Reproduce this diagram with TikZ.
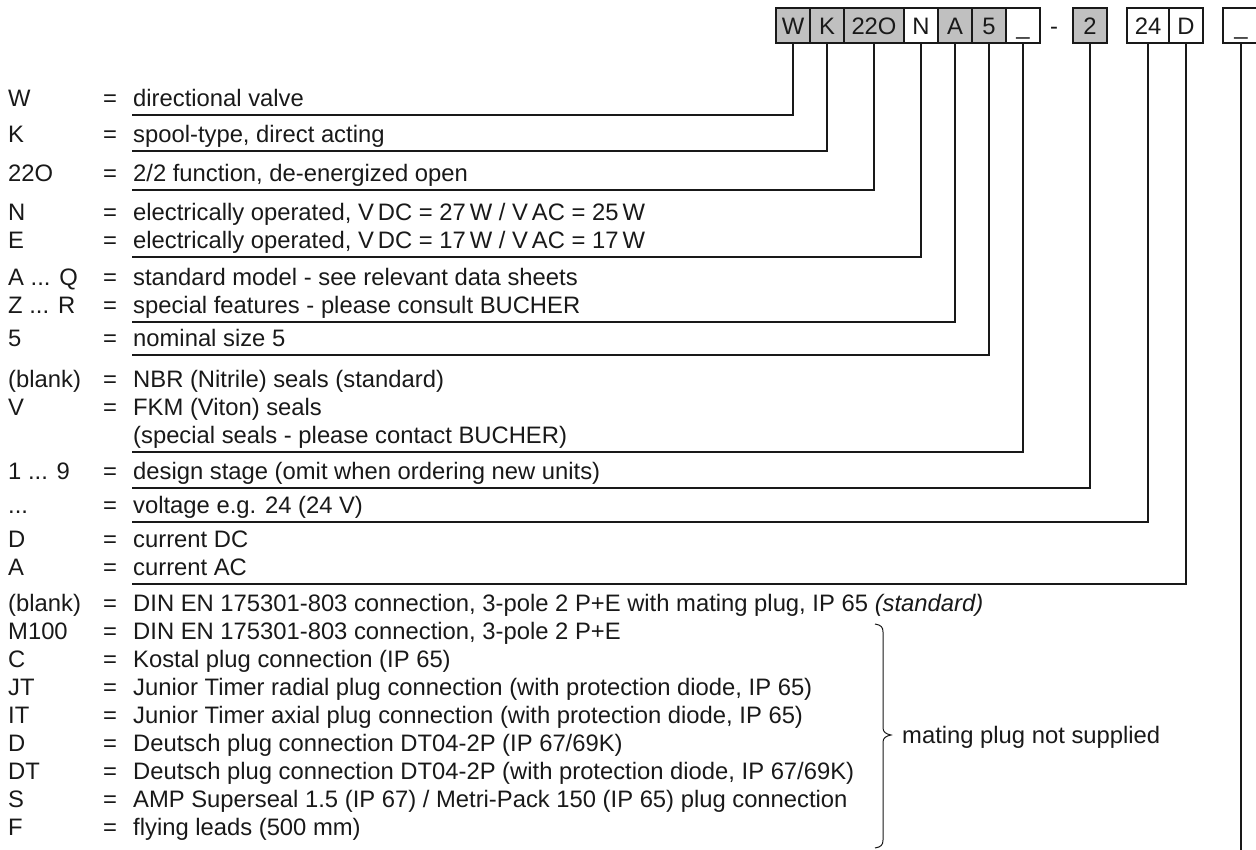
\documentclass[tikz,border=0pt]{standalone}
\usepackage{fontspec}
\setmainfont{Liberation Sans}
\definecolor{boxgray}{RGB}{192,192,192}
\definecolor{ink}{RGB}{25,25,25}
\newcommand\entry[4]{%
  \node[txt] (c#1) at (8,#2) {#3};
  \node[txt] (q#1) at (103,#2) {=};
  \node[txt] (d#1) at (133,#2) {#4};}
\begin{document}
\begin{tikzpicture}[x=1pt,y=-1pt,
  font=\fontsize{23.8}{28}\selectfont,
  txt/.style={anchor=base west, inner sep=0pt, text=ink},
  box/.style={draw=ink, line width=1.2pt, minimum height=35pt, inner sep=0pt,
    text height=17pt, text depth=0pt, text=ink},
  gbox/.style={box, fill=boxgray},
  conn/.style={draw=ink, line width=1.4pt}]
\useasboundingbox (0,0) rectangle (1256,849);

% code boxes
\node[gbox, minimum width=34pt] (bW) at (793,25.5) {W};
\node[gbox, minimum width=34pt] (bK) at (827,25.5) {K};
\node[gbox, minimum width=60pt] (b22) at (874,25.5) {22O};
\node[box,  minimum width=34pt] (bN) at (921,25.5) {N};
\node[gbox, minimum width=34pt] (bA) at (955,25.5) {A};
\node[gbox, minimum width=34pt] (b5) at (989,25.5) {5};
\node[box,  minimum width=34pt] (bU1) at (1023,25.5) {\_};
\node[txt] (dash) at (1050,34) {-};
\node[gbox, minimum width=34pt] (b2) at (1090,25.5) {2};
\node[box,  minimum width=42pt] (b24) at (1148,25.5) {24};
\node[box,  minimum width=34pt] (bD) at (1186,25.5) {D};
\node[box,  minimum width=36pt] (bU2) at (1241,25.5) {\_};

% entries (baselines)
\entry{W}{106.5}{W}{directional valve}
\entry{K}{142.5}{K}{spool-type, direct acting}
\entry{T}{181.5}{22O}{2/2 function, de-energized open}
\entry{N}{220.5}{N}{electrically operated, V\,DC = 27\,W / V\,AC = 25\,W}
\entry{E}{248.5}{E}{electrically operated, V\,DC = 17\,W / V\,AC = 17\,W}
\entry{AQ}{285.5}{A ... Q}{standard model - see relevant data sheets}
\entry{ZR}{313.5}{Z ... R}{special features - please consult BUCHER}
\entry{F5}{346.5}{5}{nominal size 5}
\entry{BL}{387.5}{(blank)}{NBR (Nitrile) seals (standard)}
\entry{V}{415.5}{V}{FKM (Viton) seals}
\node[txt] (dSP) at (133,443.5) {(special seals - please contact BUCHER)};
\entry{DS}{479.5}{1 ... 9}{design stage (omit when ordering new units)}
\entry{VO}{513.5}{...}{voltage e.g. 24 (24 V)}
\entry{CD}{547.5}{D}{current DC}
\entry{CA}{575.5}{A}{current AC}
\entry{PB}{611.5}{(blank)}{DIN EN 175301-803 connection, 3-pole 2 P+E with mating plug, IP 65 \textit{(standard)}}
\entry{PM}{639.5}{M100}{DIN EN 175301-803 connection, 3-pole 2 P+E}
\entry{PC}{667.5}{C}{Kostal plug connection (IP 65)}
\entry{PJ}{695.5}{JT}{Junior Timer radial plug connection (with protection diode, IP 65)}
\entry{PI}{723.5}{IT}{Junior Timer axial plug connection (with protection diode, IP 65)}
\entry{PD}{751.5}{D}{Deutsch plug connection DT04-2P (IP 67/69K)}
\entry{PT}{779.5}{DT}{Deutsch plug connection DT04-2P (with protection diode, IP 67/69K)}
\entry{PS}{807.5}{S}{AMP Superseal 1.5 (IP 67) / Metri-Pack 150 (IP 65) plug connection}
\entry{PF}{835.5}{F}{flying leads (500 mm)}

% connector ends
\coordinate (eW) at (132,115);
\coordinate (eK) at (132,151);
\coordinate (eT) at (132,190);
\coordinate (eN) at (132,257);
\coordinate (eA) at (132,322);
\coordinate (e5) at (132,355);
\coordinate (eU1) at (132,452);
\coordinate (e2) at (132,488);
\coordinate (e24) at (132,522);
\coordinate (eD) at (132,584);
\coordinate (eU2) at (1241,852);

\draw[conn] (bW.south) |- (eW);
\draw[conn] (bK.south) |- (eK);
\draw[conn] (b22.south) |- (eT);
\draw[conn] (bN.south) |- (eN);
\draw[conn] (bA.south) |- (eA);
\draw[conn] (b5.south) |- (e5);
\draw[conn] (bU1.south) |- (eU1);
\draw[conn] (b2.south) |- (e2);
\draw[conn] (b24.south) |- (e24);
\draw[conn] (bD.south) |- (eD);
\draw[conn] (bU2.south) -- (eU2);

% brace
\draw[draw=ink, line width=1pt] (875,624) .. controls (881,625) and (883,627) .. (883,632) -- (883,728)
  .. controls (883,732) and (886,734) .. (891,735) .. controls (886,736) and (883,738) .. (883,742)
  -- (883,840) .. controls (883,845) and (881,847) .. (875,848);
\node[txt] (mp) at (902,743.5) {mating plug not supplied};
\end{tikzpicture}
\end{document}
